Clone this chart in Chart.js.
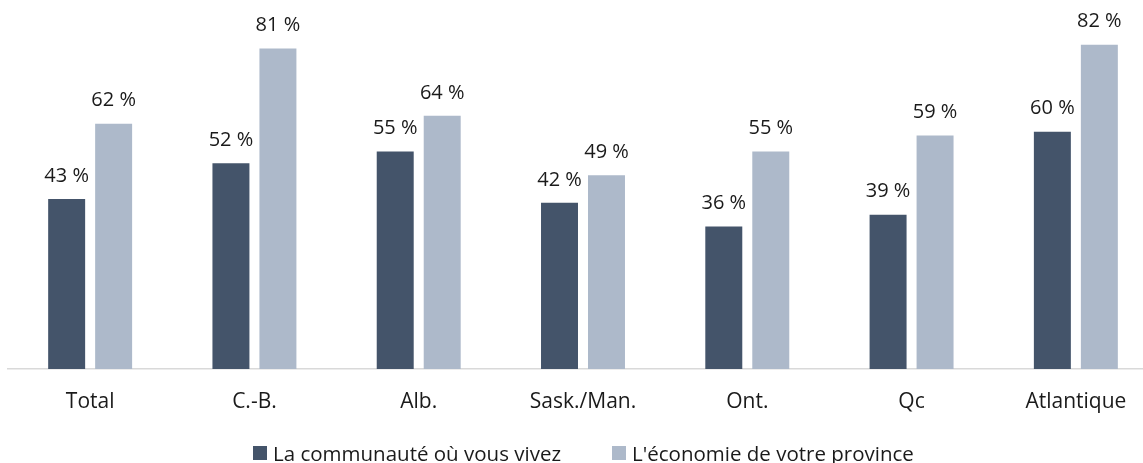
<!DOCTYPE html>
<html lang="fr">
<head>
<meta charset="utf-8">
<script src="https://cdn.jsdelivr.net/npm/chart.js@4/dist/chart.umd.min.js"></script>
<style>
  html, body { margin: 0; padding: 0; background: #fff; overflow: hidden; }
  #wrap { position: relative; width: 1143px; height: 463px; overflow: hidden; }
  #legend {
    position: absolute; left: 253px; top: 443px;
    display: flex; align-items: center;
    font-family: "Open Sans", sans-serif; font-size: 20.5px; line-height: 1; color: #1a1a1a;
    white-space: nowrap;
  }
  #legend .item { display: flex; align-items: center; margin-right: 51px; }
  #legend .box { width: 14px; height: 14px; margin-right: 6px; }
</style>
</head>
<body>
<div id="wrap">
  <canvas id="chart" width="1158" height="463"></canvas>
  <div id="legend"></div>
</div>
<script>
const categories = ["Total", "C.-B.", "Alb.", "Sask./Man.", "Ont.", "Qc", "Atlantique"];
const communaute = [43, 52, 55, 42, 36, 39, 60];
const economie = [62, 81, 64, 49, 55, 59, 82];
const seriesNames = ["La communauté où vous vivez", "L'économie de votre province"];

const colors = {
    communaute: "#44546a",
    economie: "#adb9ca",
};

// draws "43 %" style labels above each bar
const barLabels = {
    id: "barLabels",
    afterDatasetsDraw(chart) {
        const ctx = chart.ctx;
        ctx.save();
        ctx.font = '20px "Open Sans", sans-serif';
        ctx.fillStyle = "#1a1a1a";
        ctx.textAlign = "center";
        ctx.textBaseline = "middle";
        chart.data.datasets.forEach((ds, i) => {
            chart.getDatasetMeta(i).data.forEach((bar, j) => {
                ctx.fillText(ds.data[j] + " %", bar.x, bar.y - 23);
            });
        });
        ctx.restore();
    },
};

const chart = new Chart(document.getElementById("chart"), {
    type: "bar",
    data: {
        labels: categories,
        datasets: [
            {
                label: seriesNames[0],
                data: communaute,
                backgroundColor: colors.communaute,
                barPercentage: 0.787,
                categoryPercentage: 0.572,
            },
            {
                label: seriesNames[1],
                data: economie,
                backgroundColor: colors.economie,
                barPercentage: 0.787,
                categoryPercentage: 0.572,
            },
        ],
    },
    options: {
        responsive: false,
        animation: false,
        layout: { padding: { left: 8, right: 0, top: 13, bottom: 0 } },
        plugins: {
            legend: { display: false },
            tooltip: { enabled: false },
        },
        scales: {
            x: {
                grid: { display: false, drawTicks: false },
                border: { display: true, color: "#d9d9d9", width: 1.5 },
                ticks: {
                    color: "#1a1a1a",
                    padding: 20,
                    font: { family: "Open Sans", size: 21 },
                },
                afterFit(scale) {
                    scale.height = 94;
                },
            },
            y: {
                display: false,
                min: 0,
                max: 90,
            },
        },
    },
    plugins: [barLabels],
});

const legend = document.getElementById("legend");
chart.data.datasets.forEach((ds) => {
    const item = document.createElement("div");
    item.className = "item";
    const box = document.createElement("span");
    box.className = "box";
    box.style.background = ds.backgroundColor;
    const txt = document.createElement("span");
    txt.textContent = ds.label;
    item.appendChild(box);
    item.appendChild(txt);
    legend.appendChild(item);
});
</script>
</body>
</html>
